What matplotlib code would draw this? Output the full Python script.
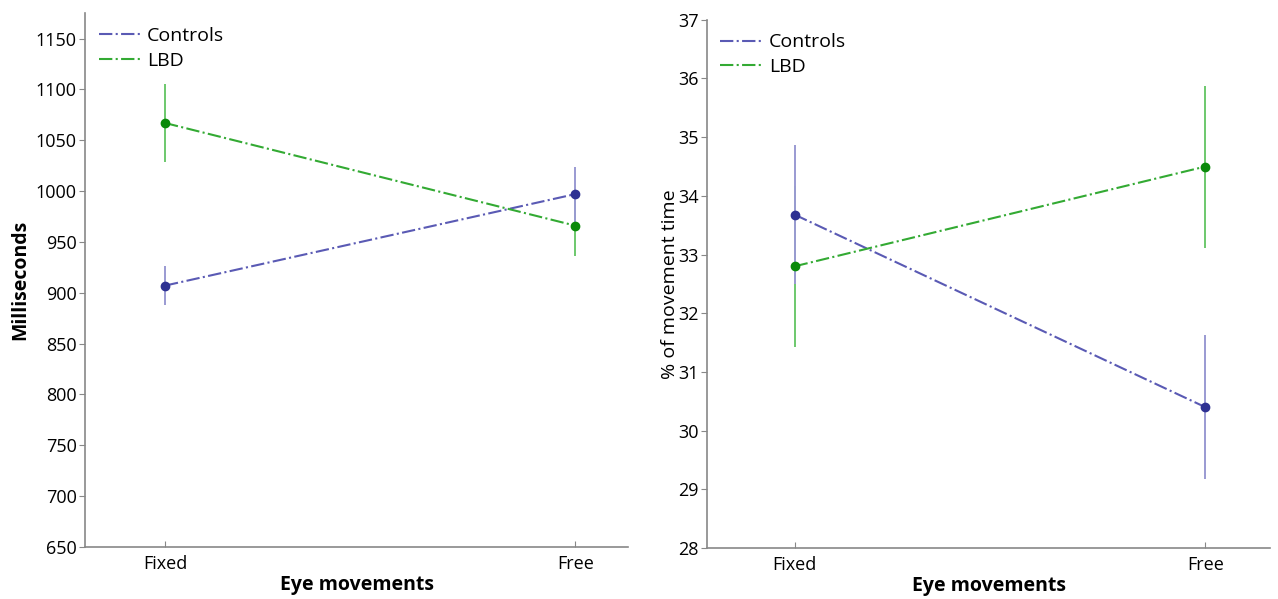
import matplotlib
matplotlib.use("Agg")
import matplotlib.pyplot as plt

plt.rcParams["font.family"] = ["Open Sans", "DejaVu Sans"]

conditions = ["Fixed", "Free"]

# left panel: milliseconds
ms_controls = [907, 997]
ms_controls_err = [19, 27]
ms_lbd = [1067, 966]
ms_lbd_err = [38, 30]
ms_ticks = [650, 700, 750, 800, 850, 900, 950, 1000, 1050, 1100, 1150]

# right panel: % of movement time
pct_controls = [33.68, 30.40]
pct_controls_err = [1.18, 1.23]
pct_lbd = [32.80, 34.50]
pct_lbd_err = [1.37, 1.38]
pct_ticks = [28, 29, 30, 31, 32, 33, 34, 35, 36, 37]

c_line = "#5a5ab4"
c_mark = "#2e3192"
c_err = "#9a9ad2"
g_line = "#33aa33"
g_mark = "#0a8a0a"
g_err = "#6cc86c"

fig = plt.figure(figsize=(12.78, 5.99), dpi=100)
ax1 = fig.add_axes([0.0665, 0.087, 0.425, 0.891])
ax2 = fig.add_axes([0.553, 0.085, 0.441, 0.882])

def panel(ax, ctrl, ctrl_err, lbd, lbd_err, xlim, ylim, ticks):
    x = [1, 2]
    ax.errorbar(x, lbd, yerr=lbd_err, fmt="none", ecolor=g_err, elinewidth=1.4, zorder=2)
    ax.errorbar(x, ctrl, yerr=ctrl_err, fmt="none", ecolor=c_err, elinewidth=1.4, zorder=3)
    ax.plot(x, ctrl, ls="-.", color=c_line, lw=1.5, label="Controls", zorder=4)
    ax.plot(x, lbd, ls="-.", color=g_line, lw=1.5, label="LBD", zorder=4)
    ax.plot(x, ctrl, "o", color=c_mark, ms=6, zorder=5)
    ax.plot(x, lbd, "o", color=g_mark, ms=6, zorder=5)
    ax.set_xlim(*xlim)
    ax.set_ylim(*ylim)
    ax.set_xticks(x)
    ax.set_xticklabels(conditions)
    ax.set_yticks(ticks)
    for s in ["top", "right"]:
        ax.spines[s].set_visible(False)
    for s in ["left", "bottom"]:
        ax.spines[s].set_color("#888888")
        ax.spines[s].set_linewidth(1.2)
    ax.tick_params(axis="y", direction="out", length=4, color="#888888", labelsize=13, pad=2)
    ax.tick_params(axis="x", direction="in", length=4, color="#888888", labelsize=13, pad=6)
    ax.set_xlabel("Eye movements", fontsize=14, fontweight="bold", labelpad=1)
    ax.legend(loc="upper left", frameon=False, fontsize=14, handlelength=2.2,
              handletextpad=0.3, borderaxespad=0.3, labelspacing=0.35)

panel(ax1, ms_controls, ms_controls_err, ms_lbd, ms_lbd_err, (0.805, 2.129), (650, 1175), ms_ticks)
ax1.set_ylabel("Milliseconds", fontsize=14, fontweight="bold", labelpad=4)

panel(ax2, pct_controls, pct_controls_err, pct_lbd, pct_lbd_err, (0.786, 2.158), (28, 37), pct_ticks)
ax2.set_ylabel("% of movement time", fontsize=14, labelpad=-1)

fig.savefig("out.png", dpi=100)
